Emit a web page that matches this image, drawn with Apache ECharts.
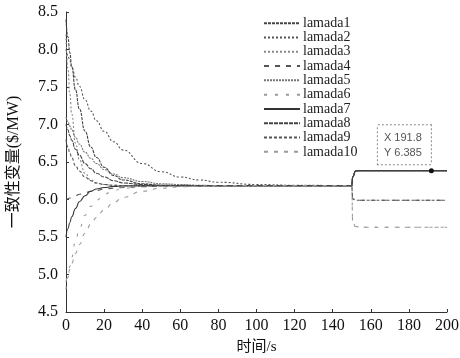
<!DOCTYPE html>
<html><head><meta charset="utf-8">
<script src="https://cdn.jsdelivr.net/npm/echarts@6/dist/echarts.min.js"></script>
<style>html,body{margin:0;padding:0;background:#fff}#c{width:460px;height:358px}</style>
</head><body><div id="c"></div>
<script>
var time = [0,1,2,3,5,7,10,13,16,20,25,30,40,50,60,70,80,100,120,150,150.5,152,155,170,191.8,200];
var lamada1 = [8.40,8.17,7.96,7.77,7.46,7.21,6.91,6.70,6.56,6.43,6.32,6.26,6.21,6.19,6.19,6.185,6.185,6.185,6.185,6.185,6.30,6.38,6.385,6.385,6.385,6.385];
var lamada2 = [8.00,7.92,7.85,7.77,7.63,7.51,7.33,7.18,7.05,6.91,6.77,6.66,6.48,6.37,6.30,6.26,6.23,6.20,6.19,6.185,6.30,6.38,6.385,6.385,6.385,6.385];
var lamada3 = [8.20,7.75,7.41,7.14,6.75,6.53,6.35,6.26,6.22,6.20,6.19,6.185,6.185,6.185,6.185,6.185,6.185,6.185,6.185,6.185,6.30,6.38,6.385,6.385,6.385,6.385];
var lamada4 = [6.00,6.01,6.02,6.03,6.05,6.07,6.09,6.11,6.12,6.14,6.15,6.16,6.17,6.18,6.18,6.185,6.185,6.185,6.185,6.185,6.01,5.99,5.99,5.99,5.99,5.99];
var lamada5 = [7.10,7.04,6.98,6.93,6.83,6.74,6.63,6.55,6.48,6.40,6.34,6.29,6.24,6.21,6.20,6.19,6.185,6.185,6.185,6.185,6.30,6.38,6.385,6.385,6.385,6.385];
var lamada6 = [4.80,4.96,5.11,5.23,5.45,5.61,5.79,5.91,5.99,6.07,6.12,6.15,6.175,6.18,6.185,6.185,6.185,6.185,6.185,6.185,5.70,5.64,5.63,5.63,5.63,5.63];
var lamada7 = [5.50,5.61,5.69,5.77,5.88,5.97,6.05,6.11,6.14,6.16,6.175,6.18,6.185,6.185,6.185,6.185,6.185,6.185,6.185,6.185,6.30,6.38,6.385,6.385,6.385,6.385];
var lamada8 = [7.00,6.93,6.85,6.79,6.67,6.59,6.48,6.41,6.35,6.30,6.25,6.22,6.20,6.19,6.185,6.185,6.185,6.185,6.185,6.185,6.30,6.38,6.385,6.385,6.385,6.385];
var lamada9 = [6.80,6.70,6.62,6.56,6.45,6.38,6.30,6.25,6.22,6.20,6.19,6.185,6.185,6.185,6.185,6.185,6.185,6.185,6.185,6.185,6.01,5.99,5.99,5.99,5.99,5.99];
var lamada10 = [4.90,4.99,5.07,5.15,5.28,5.40,5.55,5.67,5.76,5.86,5.96,6.03,6.11,6.15,6.17,6.18,6.185,6.185,6.185,6.185,5.70,5.64,5.63,5.63,5.63,5.63];
var seriesNames = ['lamada1','lamada2','lamada3','lamada4','lamada5','lamada6','lamada7','lamada8','lamada9','lamada10'];
var seriesValues = [lamada1,lamada2,lamada3,lamada4,lamada5,lamada6,lamada7,lamada8,lamada9,lamada10];
var xTicks = [0,20,40,60,80,100,120,140,160,180,200];
var yTicks = [4.5,5.0,5.5,6.0,6.5,7.0,7.5,8.0,8.5];
var cursorPoint = [191.8, 6.385];

var colors = ['#444','#555','#888','#555','#777','#9a9a9a','#333','#444','#555','#999'];
var dashes = [[3,1],[2,2],[2,2],[5,6],[2,1],[3,8],'solid',[4,1],[3,2],[4,6]];
var serif = 'Liberation Serif, Times New Roman, serif';

var series = seriesNames.map(function(n,i){
  var s = {
    name: n, type: 'line', symbol: 'none', smooth: true, smoothMonotone: 'x',
    data: time.map(function(t,j){ return [t, seriesValues[i][j]]; }),
    lineStyle: {color: colors[i], width: 1.1, type: dashes[i]},
    itemStyle: {color: colors[i]}, z: 2
  };
  if (i === 0) {
    s.markPoint = {
      symbol: 'circle', symbolSize: 5,
      itemStyle: {color: '#111', opacity: 1},
      data: [{coord: cursorPoint, value: cursorPoint[0]}],
      label: {
        show: true, position: [-51, -43],
        formatter: 'X ' + cursorPoint[0].toFixed(1) + '\nY ' + cursorPoint[1].toFixed(3),
        color: '#555', fontFamily: 'Liberation Sans, Arial, sans-serif', fontSize: 11,
        lineHeight: 15, align: 'left',
        backgroundColor: '#fff', borderColor: '#888', borderWidth: 1, borderType: 'dotted',
        padding: [5, 7, 4, 6], width: 40
      }
    };
  }
  return s;
});

var chart = echarts.init(document.getElementById('c'));
chart.setOption({
  animation: false,
  backgroundColor: '#fff',
  grid: {left: 66, right: 13, top: 12, bottom: 46, containLabel: false, outerBoundsMode: 'none'},
  legend: {
    orient: 'vertical', left: 258, top: 11, itemGap: 0,
    itemWidth: 36, itemHeight: 10,
    itemStyle: {opacity: 0},
    textStyle: {fontFamily: serif, fontSize: 14, color: '#222', lineHeight: 14.3, padding: [0,0,0,-2]},
    data: seriesNames
  },
  xAxis: {
    type: 'value', min: 0, max: 200, interval: 20,
    name: '时间/s', nameLocation: 'middle', nameGap: 28,
    nameTextStyle: {fontFamily: serif + ', Noto Sans CJK SC', fontSize: 15, color: '#111'},
    axisLine: {lineStyle: {color: '#333', width: 1}},
    axisTick: {inside: true, length: 3, lineStyle: {color: '#333'}},
    axisLabel: {fontFamily: serif, fontSize: 16, color: '#111', margin: 6},
    splitLine: {show: false}
  },
  yAxis: {
    type: 'value', min: 4.5, max: 8.5, interval: 0.5,
    name: '一致性变量($/MW)', nameLocation: 'middle', nameGap: 44,
    nameTextStyle: {fontFamily: serif + ', Noto Sans CJK SC', fontSize: 16, color: '#111'},
    axisLine: {show: true, lineStyle: {color: '#333', width: 1}},
    axisTick: {show: true, inside: true, length: 3, lineStyle: {color: '#333'}},
    axisLabel: {fontFamily: serif, fontSize: 16, color: '#111', margin: 8,
      formatter: function(v){ return v.toFixed(1); }},
    splitLine: {show: false}
  },
  series: series
});
</script></body></html>
